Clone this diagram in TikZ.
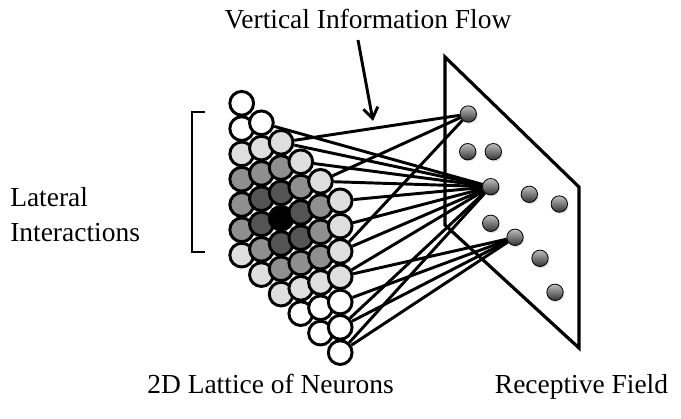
\documentclass[tikz,border=0pt]{standalone}
\usepackage{fontspec}
\setmainfont{Liberation Serif}
\usepackage{tikz}
\usetikzlibrary{arrows.meta, shadows}
\definecolor{shade0}{gray}{0.0}
\definecolor{shade1}{gray}{0.33}
\definecolor{shade2}{gray}{0.56}
\definecolor{shade3}{gray}{0.87}
\definecolor{shade4}{gray}{1.0}

\begin{document}
\begin{tikzpicture}[x=0.75pt,y=-0.75pt]
    \tikzstyle{neuron}=[circle,draw=black,line width=2.2pt,inner sep=0pt,minimum size=17.8pt]
    \tikzstyle{field}=[circle,draw=black,line width=0.6pt,inner sep=0pt,minimum size=12.3pt,top color=black!25,bottom color=black!80,drop shadow={opacity=0.25,shadow xshift=0.8pt,shadow yshift=-1.2pt}]
    \tikzstyle{link}=[line width=2.2pt]
    \tikzstyle{caption}=[font=\fontsize{20.6}{26.3}\selectfont,inner sep=0pt]
    \useasboundingbox (0,0) rectangle (681,418);

    \draw[line width=2.4pt,line join=miter] (445,57) -- (579,187) -- (579,348) -- (445,225) -- cycle;
    \draw[line width=2.2pt] (205,112) -- (192,112) -- (192,252) -- (205,252);

    \foreach \c in {0,...,5} {
        \foreach \r in {0,...,6} {
            \pgfmathtruncatemacro{\d}{min(4,max(abs(\c-2),abs(\c+\r-5),abs(\r-3)))}
            \node (n-\c-\r)[neuron,fill=shade\d] at ({241.7+19.7*\c},{103.3+19.5*\c+25.3*\r}) {};
        }
    }

    \node (f1)[field] at (468.3,114) {};
    \node (f2)[field] at (467.7,151.7) {};
    \node (f3)[field] at (493.3,151.7) {};
    \node (f4)[field] at (490.7,186.7) {};
    \node (f5)[field] at (529.3,194.3) {};
    \node (f6)[field] at (559.3,204) {};
    \node (f7)[field] at (490.7,223.3) {};
    \node (f8)[field] at (515,237.3) {};
    \node (f9)[field] at (540,258.3) {};
    \node (f10)[field] at (555,292.3) {};

    \foreach \n in {n-2-0,n-4-0,n-5-2}
        \draw[link] (\n) -- (f1);
    \foreach \n in {n-1-0,n-2-0,n-3-0,n-4-0,n-5-0,n-5-1,n-5-2,n-5-3,n-5-5,n-5-6}
        \draw[link] (\n) -- (f4);
    \foreach \n in {n-5-3,n-5-4,n-5-5,n-5-6}
        \draw[link] (\n) -- (f8);

    \node (flowlabel)[caption,anchor=base] at (368,28) {Vertical Information Flow};
    \coordinate (flowstart) at (358,40);
    \coordinate (flowend) at (373,121);
    \draw[line width=2.2pt,-{Straight Barb[length=8pt,width=11pt]}] (flowstart) -- (flowend);

    \node (lateral)[caption,anchor=south west,align=left] at (10,242) {Lateral\\Interactions};
    \node (lattice)[caption,anchor=base] at (270.5,393) {2D Lattice of Neurons};
    \node (receptive)[caption,anchor=base] at (581.5,393) {Receptive Field};
\end{tikzpicture}
\end{document}
